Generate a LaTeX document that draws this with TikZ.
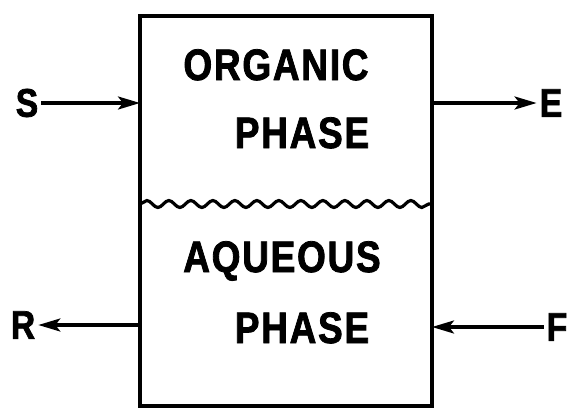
\documentclass[tikz,border=0pt]{standalone}
\usepackage{fontspec}
\setmainfont{Liberation Sans}
\newfontfamily\lbl{Liberation Sans Bold}[FakeStretch=0.84,LetterSpace=4,FakeBold=1.8]
\usetikzlibrary{arrows.meta,decorations.pathmorphing}
\begin{document}
\begin{tikzpicture}[x=1pt,y=-1pt,
  wall/.style={line width=4pt},
  flow/.style={line width=3.2pt,-{Stealth[length=22pt,width=13pt,inset=5pt]}},
  phase/.style={font=\lbl\fontsize{44}{44}\selectfont,inner sep=0pt,anchor=base},
  stream/.style={font=\lbl\fontsize{40}{40}\selectfont,inner ysep=0pt,inner xsep=3pt}]
\useasboundingbox (0,0) rectangle (572,408);
\node[draw,wall,minimum width=292pt,minimum height=390pt,inner sep=0pt,outer sep=0pt] (box) at (286,211) {};
\coordinate (wl) at (140,204);
\coordinate (wr) at (432,204);
\draw[line width=3.2pt,decorate,decoration={snake,segment length=22pt,amplitude=3.5pt}] (wl) -- (wr);
\node[phase] (org) at (276,80) {ORGANIC};
\node[phase] (ph1) at (302,148) {PHASE};
\node[phase] (aq) at (282,272) {AQUEOUS};
\node[phase] (ph2) at (302,343) {PHASE};
\node[stream] (S) at (27,103) {S};
\node[stream] (E) at (551,103) {E};
\node[stream] (R) at (23,325) {R};
\node[stream] (F) at (557,327) {F};
\draw[flow] (S.east) -- (S.east -| box.west);
\draw[flow] (E.west -| box.east) -- (E.west);
\draw[flow] (R.east -| box.west) -- (R.east);
\draw[flow] (F.west) -- (F.west -| box.east);
\end{tikzpicture}
\end{document}
